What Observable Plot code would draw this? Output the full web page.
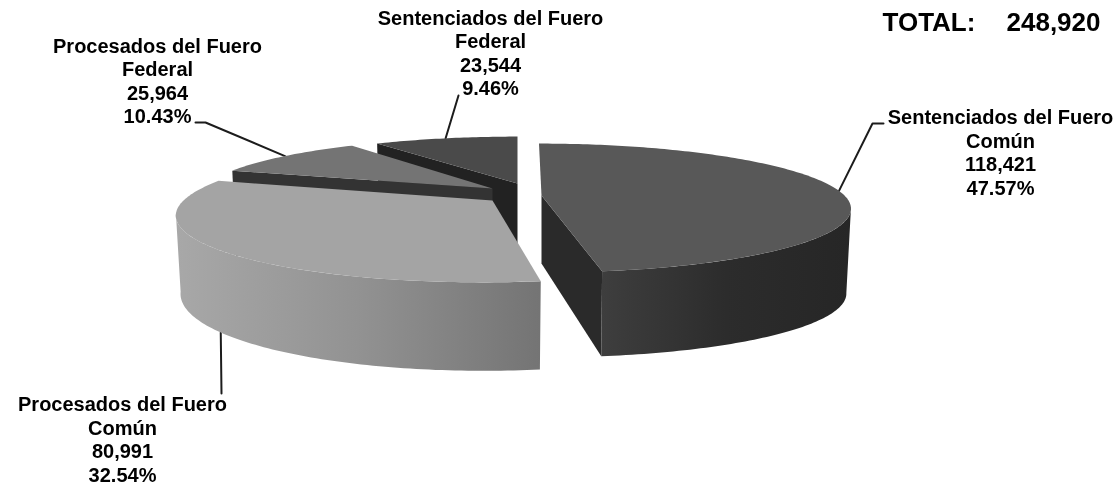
<!DOCTYPE html>
<html><head><meta charset="utf-8">
<script src="https://cdn.jsdelivr.net/npm/d3@7"></script>
<script src="https://cdn.jsdelivr.net/npm/@observablehq/plot@0.6"></script>
<style>html,body{margin:0;padding:0;background:#fff}svg{display:block;filter:blur(0.45px)}</style>
</head><body><div id="chart"></div>
<script>
// ---- chart data ----
const categories = ["Sentenciados del Fuero Común","Procesados del Fuero Común","Procesados del Fuero Federal","Sentenciados del Fuero Federal"];
const values = [118421, 80991, 25964, 23544];
const shares = ["47.57%","32.54%","10.43%","9.46%"];
const valueLabels = ["118,421","80,991","25,964","23,544"];
const nameLines = [["Sentenciados del Fuero","Común"],["Procesados del Fuero","Común"],["Procesados del Fuero","Federal"],["Sentenciados del Fuero","Federal"]];
const totalLabel = "TOTAL:";
const totalValue = "248,920";

// ---- styling ----
const topFill = ["#585858","#a4a4a4","#747474","#4a4a4a"];
const cutFill = ["#2a2a2a","#2a2a2a","#333333","#222222"];
const rimStops = [["#3e3e3e","#2c2c2c","#262626"],["#a8a8a8","#929292","#747474"],["#333","#333","#333"],["#222","#222","#222"]];

// ---- layout of the tilted, exploded pie ----
const W = 1118, H = 486;
const apex = [[541,195],[492,200],[492,188],[517,183]];
const radius = [303,309,291,291];
const tilt = [62,66,60,56];
const shear = [3,-8,0,0];
const dropBase = [85,76,85,85];
const dropFront = [0,10,0,0];
const persp = 0.194, apexDrop = 68, bottomShrink = 0.985;
const labelAt = [[1000,151.5],[122,438.5],[157,80],[490,52]];
const leaderVia = [[[872,123],[883,123]],[[221,393]],[[205,122],[195,122]],[[458,95]]];

const arcs = d3.pie().sort(null).startAngle(0).endAngle(2*Math.PI)(values);
function rimPoint(i, a, bottom){
  const X = Math.sin(a), Y = -Math.cos(a), s = 1/(1 - persp*Y);
  const k = bottom ? bottomShrink : 1;
  const drop = bottom ? dropBase[i] + dropFront[i]*Y*s : 0;
  return {x: apex[i][0] + radius[i]*k*X*s + shear[i]*Y*s, y: apex[i][1] + tilt[i]*Y*s + drop};
}
function sample(a0,a1){
  const n = Math.max(2, Math.ceil((a1-a0)/(Math.PI/180)));
  return d3.range(n+1).map(j => a0 + (a1-a0)*j/n);
}
const visFrom = Math.acos(-persp), visTo = 2*Math.PI - visFrom;

const faceMarks = [];
for (const i of [3,2,1,0]) {
  const {startAngle:a0, endAngle:a1} = arcs[i];
  const c = {x:apex[i][0], y:apex[i][1]}, cb = {x:apex[i][0], y:apex[i][1]+apexDrop};
  const cut = a => [c, rimPoint(i,a,false), rimPoint(i,a,true), cb];
  // straight cut faces that turn towards the viewer
  if (-Math.sin(a0) > 1e-6) faceMarks.push(Plot.line(cut(a0),{x:"x",y:"y",fill:cutFill[i],stroke:"none"}));
  if (Math.sin(a1) > 1e-6) faceMarks.push(Plot.line(cut(a1),{x:"x",y:"y",fill:cutFill[i],stroke:"none"}));
  // curved outer wall
  const r0 = Math.max(a0,visFrom), r1 = Math.min(a1,visTo);
  if (r1 > r0) {
    const as = sample(r0,r1);
    const wall = [...as.map(a=>rimPoint(i,a,false)), ...as.slice().reverse().map(a=>rimPoint(i,a,true))];
    faceMarks.push(Plot.line(wall,{x:"x",y:"y",fill:`url(#rim${i})`,stroke:"none"}));
  }
  // top face
  faceMarks.push(Plot.line([c,...sample(a0,a1).map(a=>rimPoint(i,a,false))],{x:"x",y:"y",fill:topFill[i],stroke:"none"}));
}

const leaderMarks = arcs.map((d,i)=>{
  const mid = (d.startAngle+d.endAngle)/2;
  const start = rimPoint(i,mid,i===1);
  const pts = [start, ...leaderVia[i].map(([x,y])=>({x,y}))];
  return Plot.line(pts,{x:"x",y:"y",stroke:"#1c1c1c",strokeWidth:2,fill:"none"});
});

const labels = categories.map((c,i)=>({
  x:labelAt[i][0], y:labelAt[i][1],
  text:[...nameLines[i],valueLabels[i],shares[i]].join("\n")
}));

function defs(){
  const d = d3.create("svg:defs");
  rimStops.forEach((st,i)=>{
    const g = d.append("linearGradient").attr("id",`rim${i}`).attr("x1",0).attr("x2",1).attr("y1",0).attr("y2",0);
    st.forEach((col,j)=>g.append("stop").attr("offset",j/(st.length-1)).attr("stop-color",col));
  });
  return d.node();
}

const font = "Liberation Sans, Arial, sans-serif";
const chart = Plot.plot({
  width:W, height:H, margin:0,
  x:{domain:[0,W],range:[0,W],axis:null},
  y:{domain:[0,H],range:[0,H],axis:null},
  style:{background:"#fff",fontFamily:font},
  marks:[
    defs,
    ...leaderMarks,
    ...faceMarks,
    Plot.text(labels,{x:"x",y:"y",text:"text",fontSize:20,fontWeight:"bold",fill:"#000",lineHeight:1.175,textAnchor:"middle",fontFamily:font}),
    Plot.text([totalLabel],{x:()=>882,y:()=>22,text:d=>d,fontSize:26,fontWeight:"bold",fill:"#000",textAnchor:"start",fontFamily:font}),
    Plot.text([totalValue],{x:()=>1100,y:()=>22,text:d=>d,fontSize:26,fontWeight:"bold",fill:"#000",textAnchor:"end",fontFamily:font})
  ]
});
document.getElementById("chart").append(chart);
</script></body></html>
